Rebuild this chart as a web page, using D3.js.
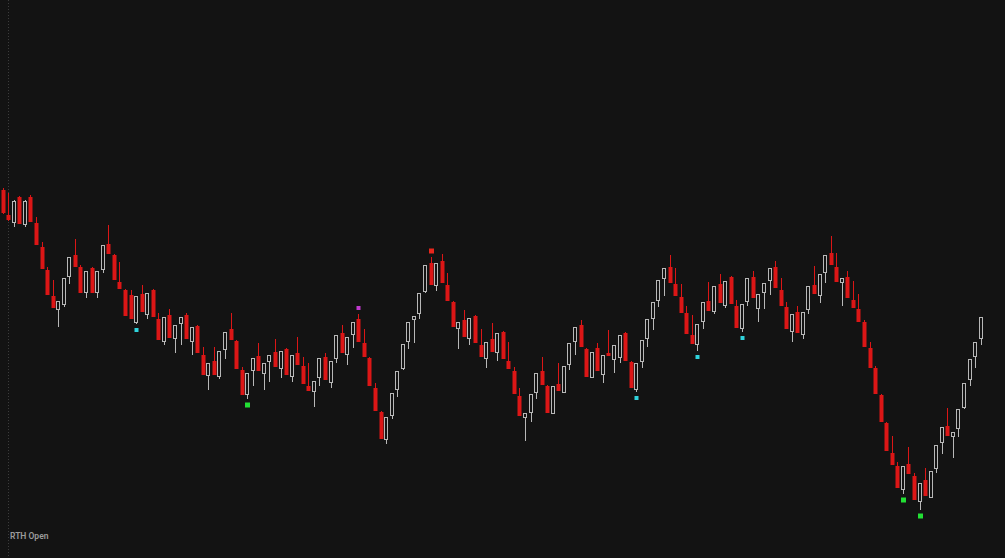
<!DOCTYPE html>
<html>
<head>
<meta charset="utf-8">
<script src="https://cdn.jsdelivr.net/npm/d3@7"></script>
<style>
  html, body { margin: 0; padding: 0; background: #131313; overflow: hidden; }
</style>
</head>
<body>
<script>
// candle values (arbitrary price units), one entry per bar
var opens  = [410,385,377,403,375,403,377,353,330,304,290,295,323,345,333,307,332,307,330,356,
              345,318,310,305,277,306,285,310,281,258,285,261,276,285,258,274,245,224,239,223,
              250,271,259,230,205,229,244,226,238,248,231,251,223,247,234,214,208,222,243,217,
              241,267,245,265,281,257,242,212,188,160,184,210,231,258,280,286,308,337,314,339,
              315,298,271,280,261,284,255,241,261,247,268,239,229,204,182,187,207,229,214,186,
              216,207,235,258,275,251,222,252,225,247,240,242,267,238,210,238,261,281,299,321,
              333,316,303,287,265,255,278,299,288,316,294,323,294,271,298,323,291,307,319,333,
              310,293,268,288,265,290,315,304,327,347,333,317,323,300,291,278,252,232,205,177,
              147,134,110,136,124,98,120,102,131,157,174,163,171,192,220,243,261];
var highs  = [412,407,400,404,400,405,383,358,333,320,299,322,343,361,335,329,333,329,355,375,
              346,338,311,310,304,315,307,311,287,283,291,275,283,287,273,275,253,237,253,249,
              268,287,260,233,227,242,257,237,245,261,249,252,245,263,243,237,219,242,247,239,
              265,275,263,278,286,271,243,217,189,183,207,229,256,278,284,307,335,343,337,346,
              327,299,278,290,282,285,271,258,277,267,269,258,233,212,187,206,227,243,215,214,
              237,234,257,273,280,252,248,257,245,270,255,265,268,239,237,260,281,298,320,332,
              345,332,316,294,285,276,298,318,314,326,319,324,300,296,322,329,306,317,332,339,
              322,298,286,294,288,314,334,326,345,364,347,322,329,319,306,280,258,234,206,178,
              164,138,134,153,127,117,132,129,155,173,192,168,191,217,241,258,283];
var lows   = [386,379,373,376,373,378,355,331,305,292,273,293,316,333,307,302,307,302,327,346,
              320,311,284,281,276,288,281,283,260,255,262,247,255,261,245,247,225,210,225,221,
              241,260,231,205,201,214,229,210,218,233,222,225,218,235,216,209,193,214,220,212,
              237,247,235,252,258,243,214,189,161,156,181,203,230,251,257,281,307,315,309,317,
              299,273,251,263,255,257,243,232,248,239,241,231,206,184,159,178,201,215,187,186,
              209,207,230,245,253,223,222,229,217,244,227,237,239,212,208,232,253,270,293,304,
              317,304,287,266,256,249,271,289,286,297,292,296,272,268,294,302,278,291,305,312,
              294,271,258,267,261,286,306,297,317,335,318,294,302,292,278,253,232,206,178,149,
              135,112,106,126,100,90,104,102,127,146,164,142,163,191,214,232,255];
var closes = [387,380,399,376,399,378,355,331,305,292,299,322,343,333,307,329,307,329,355,346,
              320,311,284,281,304,288,307,283,260,283,262,275,283,261,273,247,225,237,225,249,
              268,260,231,205,227,242,229,237,245,233,249,225,245,235,216,209,219,242,220,239,
              265,247,263,278,258,243,214,189,161,183,207,229,256,278,284,307,335,315,337,317,
              299,273,278,263,282,257,243,258,248,267,241,231,206,184,187,206,227,215,187,214,
              209,234,257,273,253,223,248,229,245,244,255,265,239,212,237,260,281,298,320,332,
              317,304,287,266,256,276,298,289,314,297,319,296,272,296,322,302,306,317,332,312,
              294,271,286,267,288,314,306,326,345,335,318,322,302,292,278,253,232,206,178,149,
              135,112,134,126,100,117,104,129,155,173,164,168,191,217,241,258,283];

// signal dots: bar index and kind
var dotBars  = [24, 114, 125, 133, 44, 162, 165, 64, 77];
var dotKinds = ["cyanLow","cyanLow","cyanLow","cyanLow","greenLow","greenLow","greenLow","magentaHigh","redHigh"];

var sessionLabel = "RTH Open";

var width = 1005, height = 558;

var svg = d3.select("body").append("svg")
    .attr("width", width)
    .attr("height", height)
    .style("display", "block")
    .style("background", "#131313");

var x = d3.scaleLinear().domain([0, opens.length - 1]).range([2.7, 980.7]);
var y = d3.scaleLinear().domain([42, 600]).range([558, 0]);

var bars = opens.map(function(o, i){
    return {i: i, o: o, h: highs[i], l: lows[i], c: closes[i], up: closes[i] >= o};
});

// session divider
svg.append("line")
    .attr("x1", 8.5).attr("x2", 8.5)
    .attr("y1", 0).attr("y2", height)
    .attr("stroke", "#3c3c3c")
    .attr("stroke-dasharray", "1,2");

var bw = 4;
var upColor = "#b8b8b8", downColor = "#dc1616";

var g = svg.append("g");

// wicks
g.selectAll(".wick")
    .data(bars)
    .enter()
    .append("line")
    .attr("class", "wick")
    .attr("x1", function(d){ return Math.round(x(d.i)) + 0.5; })
    .attr("x2", function(d){ return Math.round(x(d.i)) + 0.5; })
    .attr("y1", function(d){ return y(d.h); })
    .attr("y2", function(d){ return y(d.l); })
    .attr("stroke", function(d){ return d.up ? upColor : downColor; })
    .attr("stroke-width", 1);

// bodies
g.selectAll(".body")
    .data(bars)
    .enter()
    .append("rect")
    .attr("class", "body")
    .attr("x", function(d){ return Math.round(x(d.i)) - bw / 2 + 0.5; })
    .attr("y", function(d){ return y(Math.max(d.o, d.c)) + (d.up ? 0.5 : 0); })
    .attr("width", function(d){ return d.up ? bw - 1 : bw; })
    .attr("height", function(d){ return Math.max(1, y(Math.min(d.o, d.c)) - y(Math.max(d.o, d.c)) - (d.up ? 1 : 0)); })
    .attr("fill", function(d){ return d.up ? "#131313" : downColor; })
    .attr("stroke", function(d){ return d.up ? upColor : "none"; })
    .attr("stroke-width", 1);

// signal dots
var dotColors = {cyanLow: "#2fd3dc", greenLow: "#22e034", magentaHigh: "#c23ad0", redHigh: "#e8261c"};
var dotSizes  = {cyanLow: 4, greenLow: 5, magentaHigh: 4, redHigh: 5};

g.selectAll(".dot")
    .data(dotBars.map(function(b, k){ return {b: bars[b], kind: dotKinds[k]}; }))
    .enter()
    .append("rect")
    .attr("class", "dot")
    .attr("width", function(d){ return dotSizes[d.kind]; })
    .attr("height", function(d){ return dotSizes[d.kind]; })
    .attr("x", function(d){ return Math.round(x(d.b.i)) + 0.5 - dotSizes[d.kind] / 2; })
    .attr("y", function(d){
        var s = dotSizes[d.kind];
        return d.kind.indexOf("Low") > 0 ? y(d.b.l) + 6 - s / 2 : y(d.b.h) - 6 - s / 2;
    })
    .attr("fill", function(d){ return dotColors[d.kind]; });

svg.append("text")
    .attr("x", 10)
    .attr("y", 539)
    .attr("fill", "#9c9c9c")
    .attr("font-family", "Roboto, 'Noto Sans', sans-serif")
    .attr("font-size", 8.5)
    .attr("font-weight", 600)
    .text(sessionLabel);
</script>
</body>
</html>
